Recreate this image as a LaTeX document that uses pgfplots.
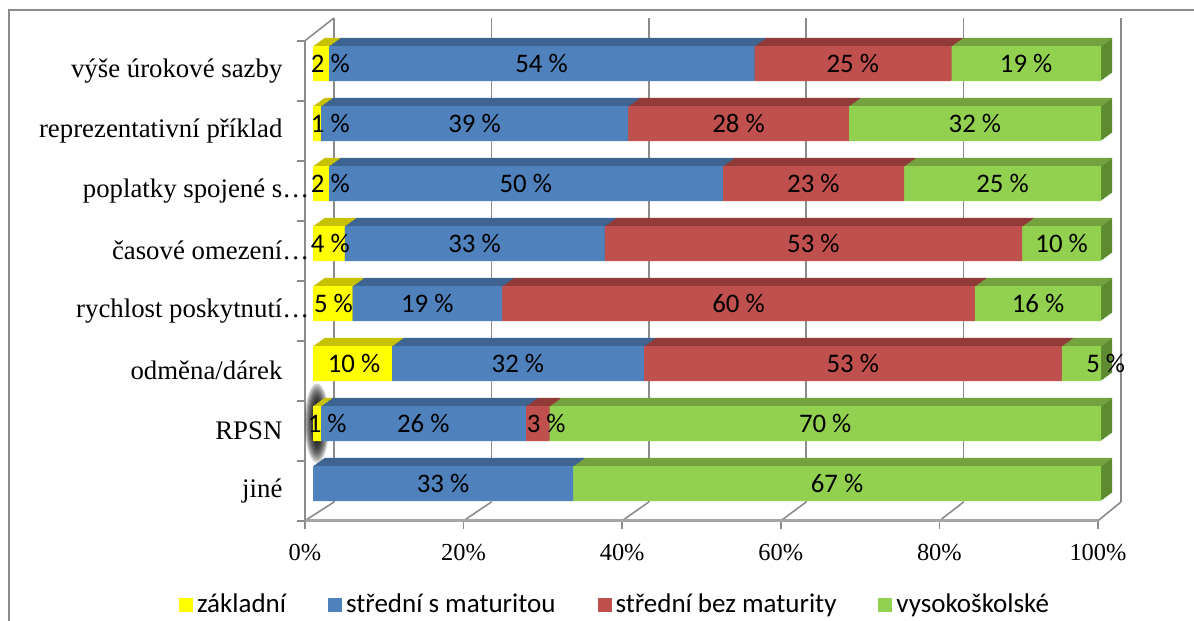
\documentclass[border=0pt]{standalone}
\usepackage{fontspec}
\setmainfont{Liberation Serif}
\newfontfamily\timesfont{Liberation Serif}
\newfontfamily\calibri{Carlito}
\usepackage{pgfplots}
\usepackage{pgfplotstable}
\pgfplotsset{compat=1.18}

% face colours: F = front, T = top, S = side
\definecolor{zakF}{HTML}{FFFF00}\definecolor{zakT}{HTML}{C6C200}
\definecolor{smF}{HTML}{4F81BD}\definecolor{smT}{HTML}{3E6492}
\definecolor{sbF}{HTML}{C0504D}\definecolor{sbT}{HTML}{913B39}
\definecolor{vsF}{HTML}{92D050}\definecolor{vsT}{HTML}{74A23F}\definecolor{vsS}{HTML}{5E8A30}
\definecolor{wallgray}{HTML}{8C8C8C}
\definecolor{floorgray}{HTML}{A6A6A6}

% row: 0 = top category; val = share in %; lx = position of the value label
\pgfplotstableread{
row val lx
0 2 2.2
1 1 2.2
2 2 2.2
3 4 2.2
4 5 2.6
5 10 5.2
6 1 1.8
7 0 0
}\zakladni
\pgfplotstableread{
row val lx
0 54 29
1 39 20.5
2 50 27
3 33 20.5
4 19 14.5
5 32 26
6 26 14
7 33 16.5
}\smat
\pgfplotstableread{
row val lx
0 25 68.5
1 28 54
2 23 63.5
3 53 63.5
4 60 54
5 53 68.5
6 3 29.6
7 0 0
}\sbez
\pgfplotstableread{
row val lx
0 19 90.5
1 32 84
2 25 87.5
3 10 95
4 16 92
5 5 100.6
6 70 65
7 67 66.5
}\vs

\pgfplotsset{
  barframe/.style={scale only axis, width=394pt, height=240pt,
    anchor=south west, xmin=0, xmax=100, ymin=-0.5, ymax=7.5,
    y dir=reverse, hide axis, clip=false},
  vallabel/.style={draw=none, mark=none, point meta=explicit,
    restrict expr to domain={\thisrow{val}}{0.5:1000},
    /pgf/number format/assume math mode=true,
    nodes near coords={\pgfmathprintnumber{\pgfplotspointmeta} \%},
    nodes near coords align=center,
    every node near coord/.append style={anchor=center, inner sep=0pt,
      text=black, font=\calibri\fontsize{13.4}{15}\selectfont}},
}

\begin{document}
\begin{tikzpicture}
\useasboundingbox (0,0) rectangle (597pt,310.5pt);
\fill[white] (0,0) rectangle (597pt,310.5pt);
% chart area border
\draw[wallgray, line width=0.8pt] (4.5pt,-5pt) -- (4.5pt,305.5pt) -- (605pt,305.5pt);

% back wall gridlines
\begin{axis}[scale only axis, width=393.5pt, height=242pt, at={(167pt,59.5pt)},
  anchor=south west, xmin=0, xmax=100, ymin=0, ymax=1,
  axis line style={draw=none}, tick style={draw=none},
  xtick={0,20,...,100}, xticklabels={}, ytick=\empty,
  xmajorgrids, grid style={wallgray, line width=0.8pt}]
\end{axis}

% floor and side wall edges
\foreach \k in {0,...,5}{
  \draw[wallgray, line width=0.8pt] ({152.5pt+79.3pt*\k},50.15pt) -- ({167pt+78.7pt*\k},59.5pt);
}
\draw[wallgray, line width=0.8pt] (152.5pt,290.15pt) -- (167pt,301.5pt);

% front axis plane: category and percentage labels
\begin{axis}[scale only axis, width=396.5pt, height=240pt, at={(152.5pt,50.15pt)},
  anchor=south west, xmin=0, xmax=100, ymin=-0.5, ymax=7.5, y dir=reverse,
  axis x line*=bottom, axis y line*=left,
  x axis line style={floorgray, line width=1.6pt},
  y axis line style={wallgray, line width=0.8pt},
  tick align=outside,
  xtick={0,20,...,100},
  xtick style={wallgray, line width=0.8pt, /pgfplots/major tick length=4pt},
  xticklabel={\pgfmathprintnumber{\tick}\%},
  /pgf/number format/assume math mode=true,
  xticklabel style={font=\timesfont\fontsize{12.2}{14}\selectfont, yshift=-4pt},
  ytick={0,...,7},
  ytick style={/pgfplots/major tick length=0pt},
  minor ytick={-0.5,0.5,...,7.5},
  minor tick length=4pt,
  minor y tick style={wallgray, line width=0.8pt},
  yticklabels={výše úrokové sazby, reprezentativní příklad,
    poplatky spojené s\rlap{…}, časové omezení\rlap{…},
    rychlost poskytnutí\rlap{…}, odměna/dárek, RPSN, jiné},
  yticklabel style={font=\timesfont\fontsize{13.4}{15}\selectfont, xshift=-3.5pt}]
\end{axis}

% dark smudge beside the RPSN bar, built up from faint nested ellipses
\foreach \i in {1,...,9}{
  \fill[black, opacity=0.18] (158.5pt,99pt)
    ellipse [x radius={1.2pt+0.55pt*\i}, y radius={9pt+1.2pt*\i}];
}

% side faces of the 3-D bars
\foreach \k in {8,7,...,1}{
  \pgfmathsetmacro\sx{156.5+5.5*\k/8}
  \pgfmathsetmacro\sy{53.75+4*\k/8}
  \begin{axis}[barframe, at={(\sx pt,\sy pt)}, xbar stacked, bar width=17.5pt]
    \addplot[fill=zakT, draw=none] table[x=val, y=row] {\zakladni};
    \addplot[fill=smT, draw=none] table[x=val, y=row] {\smat};
    \addplot[fill=sbT, draw=none] table[x=val, y=row] {\sbez};
    \addplot[fill=vsS, draw=none] table[x=val, y=row] {\vs};
  \end{axis}
}

% top faces of the 3-D bars, built from thin slanted strips
\foreach \k in {1,...,8}{
  \pgfmathsetmacro\sx{156.5+5.5*\k/8}
  \pgfmathsetmacro\sy{53.75+4*\k/8+8.75-0.25}
  \begin{axis}[barframe, at={(\sx pt,\sy pt)}, xbar stacked, bar width=0.65pt]
    \addplot[fill=zakT, draw=none] table[x=val, y=row] {\zakladni};
    \addplot[fill=smT, draw=none] table[x=val, y=row] {\smat};
    \addplot[fill=sbT, draw=none] table[x=val, y=row] {\sbez};
    \addplot[fill=vsT, draw=none] table[x=val, y=row] {\vs};
  \end{axis}
}

% front faces and legend
\begin{axis}[barframe, at={(156.5pt,53.75pt)}, xbar stacked, bar width=17.5pt,
  legend columns=4,
  legend image code/.code={\fill[#1] (0pt,-3.5pt) rectangle (7pt,3.5pt);},
  legend style={at={(0.3845,-0.1906)}, anchor=center, draw=none, fill=none,
    font=\calibri\fontsize{13.5}{15}\selectfont,
    /tikz/every even column/.append style={column sep=19pt}}]
  \addplot[fill=zakF, draw=none] table[x=val, y=row] {\zakladni};
  \addplot[fill=smF, draw=none] table[x=val, y=row] {\smat};
  \addplot[fill=sbF, draw=none] table[x=val, y=row] {\sbez};
  \addplot[fill=vsF, draw=none] table[x=val, y=row] {\vs};
  \legend{základní, střední s maturitou, střední bez maturity, vysokoškolské}
\end{axis}

% value labels
\begin{axis}[barframe, at={(156.5pt,53.75pt)}]
  \addplot[vallabel] table[x=lx, y=row, meta=val] {\zakladni};
  \addplot[vallabel] table[x=lx, y=row, meta=val] {\smat};
  \addplot[vallabel] table[x=lx, y=row, meta=val] {\sbez};
  \addplot[vallabel] table[x=lx, y=row, meta=val] {\vs};
\end{axis}
\end{tikzpicture}
\end{document}
